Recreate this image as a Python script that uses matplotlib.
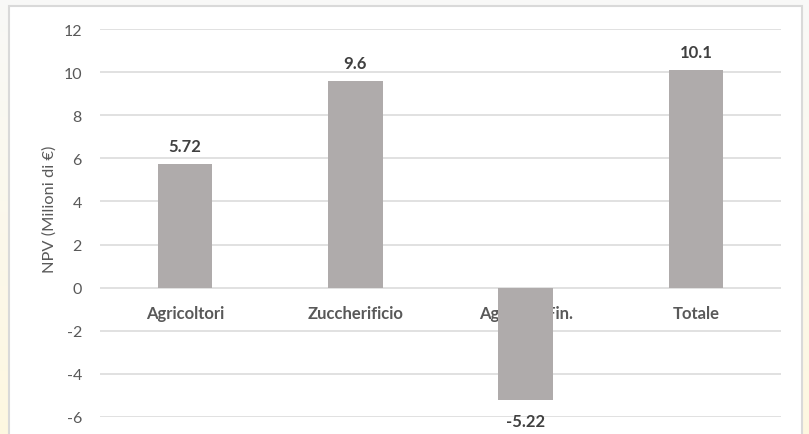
import numpy as np
import matplotlib
matplotlib.use("Agg")
from matplotlib import pyplot as plt
from matplotlib.patches import Rectangle

plt.rcParams['font.family'] = ['Lato', 'DejaVu Sans']

categories = ["Agricoltori", "Zuccherificio", "Agenzie  Fin.", "Totale"]
npv_values = [5.72, 9.6, -5.22, 10.1]
value_labels = ["5.72", "9.6", "-5.22", "10.1"]
y_ticks = [-6, -4, -2, 0, 2, 4, 6, 8, 10, 12]

W, H = 809, 435
fig = plt.figure(figsize=(W / 100, H / 100), dpi=100)
fig.patch.set_facecolor("#fdfbf4")

# background gradient on left strip (white-ish top -> cream bottom)
bg = fig.add_axes([0, 0, 1, 1], zorder=-10)
grad = np.linspace(0, 1, 256).reshape(-1, 1)
c_top = np.array([0.975, 0.975, 0.97])
c_bot = np.array([0.995, 0.97, 0.88])
img = c_top[None, None, :] * (1 - grad[..., None]) + c_bot[None, None, :] * grad[..., None]
img = np.repeat(img, 4, axis=1)
bg.imshow(img, aspect="auto", extent=[0, 1, 0, 1], origin="upper")
bg.set_xlim(0, 1)
bg.set_ylim(0, 1)
bg.axis("off")
# white chart box with light gray border
bg.add_patch(Rectangle((9 / W, -0.05), (802 - 9) / W, 1.05 - 7 / H,
                       facecolor="white", edgecolor="#d9d9d9", lw=1.5))

ax = fig.add_axes([100 / W, 1 - 418 / H, (781 - 100) / W, (418 - 30) / H])
ax.set_facecolor("none")
x = np.arange(len(categories))

ax.set_ylim(-6, 12)
ax.set_xlim(-0.5, len(categories) - 0.5)
ax.set_yticks(y_ticks)
ax.set_yticklabels([str(t) for t in y_ticks])
ax.grid(axis="y", color="#d9d9d9", lw=1.1, zorder=0)
ax.set_axisbelow(True)
ax.tick_params(axis="y", length=0, pad=13, labelsize=11.5, labelcolor="#595959")
ax.set_xticks([])
for s in ax.spines.values():
    s.set_visible(False)

fig.text(50 / W, 1 - 209 / H, "NPV (Milioni di \u20ac)", rotation=90,
         ha="center", va="center", fontsize=11.8, color="#595959")

# category labels sit at the zero line (drawn behind bars)
for xi, cat in zip(x, categories):
    ax.annotate(cat, (xi, 0), xytext=(0, -18), textcoords="offset points",
                ha="center", va="center", fontsize=12, fontweight="bold",
                color="#595959", zorder=1)

ax.bar(x, npv_values, width=0.32, color="#afabab", zorder=3)

for xi, v, lab in zip(x, npv_values, value_labels):
    off = 13 if v >= 0 else -15
    ax.annotate(lab, (xi, v), xytext=(0, off), textcoords="offset points",
                ha="center", va="center", fontsize=12, fontweight="bold",
                color="#404040", zorder=4)

fig.savefig("out.png", dpi=100)
